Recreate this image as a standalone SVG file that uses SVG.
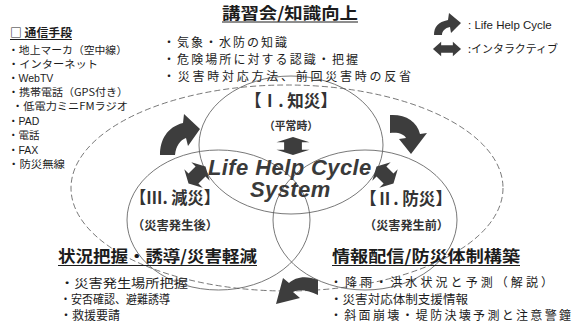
<svg xmlns="http://www.w3.org/2000/svg" width="572" height="329" viewBox="0 0 572 329">
<style>
.jp{font-family:"Noto Sans CJK JP","Liberation Sans",sans-serif;fill:#1c1c1c}
.lt{font-family:"Liberation Sans","Noto Sans CJK JP",sans-serif;fill:#1c1c1c}
.b{font-weight:bold}
.lbl{font-family:"Noto Sans CJK JP",sans-serif;font-weight:bold;fill:#333}
.ring{fill:none;stroke:#555;stroke-width:0.8}
.dash{fill:none;stroke:#555;stroke-width:0.8;stroke-dasharray:6 3}
.arr{fill:#3d3d3d}
.ul{stroke:#1c1c1c;stroke-width:1.2}
.ctr{font-family:"Liberation Sans",sans-serif;font-weight:bold;font-style:italic;fill:#3a3a3a;letter-spacing:0.4px}
</style>
<defs>
<path id="dbl" d="M-12,0 L-5,-13 L-5,-7 L5,-7 L5,-13 L12,0 L5,13 L5,7 L-5,7 L-5,13 Z"/>
</defs>
<rect width="572" height="329" fill="#fff"/>

<g id="frame">
<ellipse class="dash" cx="287" cy="188" rx="216" ry="103"/>
</g>

<g id="phase-1">
<ellipse class="ring" cx="291" cy="145" rx="92" ry="69"/>
<text class="lbl" x="245" y="107" font-size="17" textLength="92" lengthAdjust="spacingAndGlyphs">【Ⅰ. 知災】</text>
<text class="lbl" x="264" y="129.5" font-size="11" textLength="54" lengthAdjust="spacingAndGlyphs">（平常時）</text>
</g>
<g id="phase-3">
<ellipse class="ring" cx="218.5" cy="220" rx="91.5" ry="70"/>
<text class="lbl" x="130" y="203.5" font-size="17" textLength="90" lengthAdjust="spacingAndGlyphs">【Ⅲ. 減災】</text>
<text class="lbl" x="132" y="229.5" font-size="12" textLength="86" lengthAdjust="spacingAndGlyphs">（災害発生後）</text>
</g>
<g id="phase-2">
<ellipse class="ring" cx="365" cy="220" rx="92" ry="70"/>
<text class="lbl" x="360" y="204.5" font-size="17" textLength="92" lengthAdjust="spacingAndGlyphs">【Ⅱ. 防災】</text>
<text class="lbl" x="364" y="229.5" font-size="12" textLength="85" lengthAdjust="spacingAndGlyphs">（災害発生前）</text>
</g>

<g id="connectors">
<path class="arr" d="M160,155 C160,140 167,127 183,123 L184,114 L200,129 L188,146 L186,138 C180,140 176,146 175,155 Z"/>
<path class="arr" d="M390,115 C405,114 417,121 420,134 L427,133 L411,154 L399,139 L406,138 C404,134 398,132 390,133 Z"/>
<path class="arr" d="M318,280 C306,275 295,277 289,283 L283,278 L276,304 L300,298 L293,292 C299,289 308,290 318,295 Z"/>
<use href="#dbl" class="arr" transform="translate(293,146) rotate(90) scale(0.75,1.27)"/>
<use href="#dbl" class="arr" transform="translate(197,175) rotate(-45)"/>
<use href="#dbl" class="arr" transform="translate(385,175) rotate(45)"/>
</g>

<g id="center">
<text class="ctr" font-size="22"><tspan x="208" y="175">Life Help Cycle</tspan><tspan x="250" y="196.5">System</tspan></text>
</g>

<g id="knowledge">
<text class="jp b" x="222" y="19" font-size="16" textLength="136" lengthAdjust="spacingAndGlyphs">講習会/知識向上</text>
<line class="ul" x1="222" y1="22" x2="358" y2="22"/>
<text class="jp" x="163" y="47" font-size="12" textLength="124">・気象・水防の知識</text>
<text class="jp" x="163" y="64" font-size="12" textLength="195">・危険場所に対する認識・把握</text>
<text class="jp" x="163" y="81" font-size="12" textLength="248">・災害時対応方法、前回災害時の反省</text>
</g>

<g id="comms">
<text class="jp b" x="10" y="37" font-size="11" textLength="62" lengthAdjust="spacingAndGlyphs">□ 通信手段</text>
<line class="ul" x1="10" y1="39.5" x2="72" y2="39.5" style="stroke-width:1"/>
<text class="jp" x="8" y="53.5" font-size="10.5" textLength="119" lengthAdjust="spacingAndGlyphs">・地上マーカ（空中線）</text>
<text class="jp" x="8" y="67.5" font-size="10.5" textLength="90" lengthAdjust="spacingAndGlyphs">・インターネット</text>
<text class="lt" x="8" y="81.5" font-size="10.5">・WebTV</text>
<text class="jp" x="8" y="95.5" font-size="10.5" textLength="120" lengthAdjust="spacingAndGlyphs">・携帯電話（GPS付き）</text>
<text class="jp" x="12" y="110" font-size="10.5" textLength="116" lengthAdjust="spacingAndGlyphs">・低電力ミニFMラジオ</text>
<text class="lt" x="8" y="124.5" font-size="10.5">・PAD</text>
<text class="jp" x="8" y="139" font-size="10.5">・電話</text>
<text class="lt" x="8" y="153.5" font-size="10.5">・FAX</text>
<text class="jp" x="8" y="168" font-size="10.5" textLength="57" lengthAdjust="spacingAndGlyphs">・防災無線</text>
</g>

<g id="mitigation">
<text class="jp b" x="58" y="262" font-size="16" textLength="199" lengthAdjust="spacingAndGlyphs">状況把握・誘導/災害軽減</text>
<line class="ul" x1="58" y1="265.5" x2="257" y2="265.5"/>
<text class="jp" x="60" y="287.5" font-size="12" textLength="128" lengthAdjust="spacingAndGlyphs">・災害発生場所把握</text>
<text class="jp" x="60" y="303.5" font-size="12" textLength="110" lengthAdjust="spacingAndGlyphs">・安否確認、避難誘導</text>
<text class="jp" x="60" y="320" font-size="12" textLength="60" lengthAdjust="spacingAndGlyphs">・救援要請</text>
</g>

<g id="prevention">
<text class="jp b" x="332" y="262" font-size="16" textLength="188" lengthAdjust="spacingAndGlyphs">情報配信/防災体制構築</text>
<line class="ul" x1="332" y1="265.5" x2="520" y2="265.5"/>
<text class="jp" x="330" y="287" font-size="12" textLength="223">・降雨・洪水状況と予測（解説）</text>
<text class="jp" x="330" y="303.5" font-size="12" textLength="138" lengthAdjust="spacingAndGlyphs">・災害対応体制支援情報</text>
<text class="jp" x="330" y="320" font-size="12" textLength="241">・斜面崩壊・堤防決壊予測と注意警鐘</text>
</g>

<g id="legend">
<path class="arr" d="M434,35 C434,27 438,22 448,20 L449,13 L461,23 L451,33 L450,27 C445,28 442,31 442,35 Z"/>
<use href="#dbl" class="arr" transform="translate(447,49) scale(1.17,0.55)"/>
<text class="lt" x="468" y="29" font-size="11.5">: Life Help Cycle</text>
<text class="jp" x="468" y="53" font-size="11" textLength="90" lengthAdjust="spacingAndGlyphs">:インタラクティブ</text>
</g>
</svg>
